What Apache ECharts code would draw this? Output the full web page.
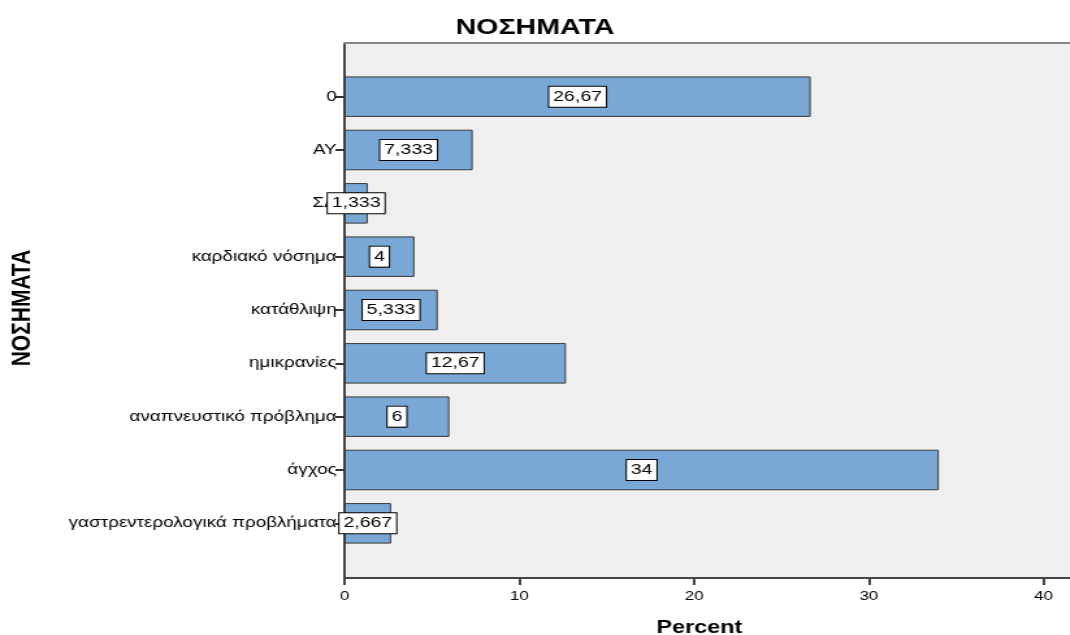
<!DOCTYPE html>
<html>
<head>
<meta charset="utf-8">
<script src="https://cdn.jsdelivr.net/npm/echarts@6/dist/echarts.min.js"></script>
<style>
  html, body { margin: 0; padding: 0; background: #ffffff; overflow: hidden; }
  /* The chart is laid out on a narrower canvas and widened horizontally */
  #chart {
    width: 823px;
    height: 635px;
    transform: scaleX(1.3);
    transform-origin: 0 0;
  }
</style>
</head>
<body>
<div id="chart"></div>
<script>
// Disease categories (top to bottom) and their percentages
const categories = [
  '0',
  'ΑΥ',
  'ΣΔ',
  'καρδιακό νόσημα',
  'κατάθλιψη',
  'ημικρανίες',
  'αναπνευστικό πρόβλημα',
  'άγχος',
  'γαστρεντερολογικά προβλήματα'
];
const percents = [26.67, 7.333, 1.333, 4, 5.333, 12.67, 6, 34, 2.667];

const xMin = 0;
const xMax = 41.5;
const xStep = 10;

const FONT = 'Liberation Sans';
const PLOT_LEFT = 265;

const chart = echarts.init(document.getElementById('chart'), null, { renderer: 'canvas' });

chart.setOption({
  animation: false,
  backgroundColor: '#ffffff',
  title: [
    {
      text: 'ΝΟΣΗΜΑΤΑ',
      left: 'center',
      top: 12,
      textStyle: { fontFamily: FONT, fontSize: 22, fontWeight: 'bold', color: '#000' }
    },
    {
      text: 'Percent',
      left: 533,
      top: 614,
      textAlign: 'center',
      textStyle: { fontFamily: FONT, fontSize: 18, fontWeight: 'bold', color: '#000' }
    }
  ],
  graphic: [
    {
      type: 'text',
      x: 17,
      y: 308,
      rotation: Math.PI / 2,
      style: {
        text: 'ΝΟΣΗΜΑΤΑ',
        font: 'bold 21px "' + FONT + '"',
        fill: '#000',
        align: 'center',
        verticalAlign: 'middle'
      }
    }
  ],
  grid: [
    // plot frame
    {
      left: PLOT_LEFT, top: 43, right: 0, bottom: 57,
      show: true, backgroundColor: '#efefef', borderWidth: 0
    },
    // bar band area
    {
      left: PLOT_LEFT, top: 70, right: 0, height: 480
    }
  ],
  xAxis: [
    {
      gridIndex: 0,
      type: 'value',
      min: xMin, max: xMax, interval: xStep,
      splitLine: { show: false },
      axisLine: { show: true, lineStyle: { color: '#444', width: 2 } },
      axisTick: { show: true, length: 7, lineStyle: { color: '#444', width: 2 } },
      axisLabel: {
        showMaxLabel: false,
        margin: 12,
        fontFamily: FONT, fontSize: 13, color: '#000'
      }
    },
    {
      gridIndex: 0,
      type: 'value',
      position: 'top',
      min: xMin, max: xMax, interval: xStep,
      splitLine: { show: false },
      axisLine: { show: true, lineStyle: { color: '#888', width: 2 } },
      axisTick: { show: false },
      axisLabel: { show: false }
    },
    {
      gridIndex: 1,
      type: 'value',
      min: xMin, max: xMax, interval: xStep,
      show: false
    }
  ],
  yAxis: [
    {
      gridIndex: 0,
      type: 'value',
      axisLine: { show: true, onZero: false, lineStyle: { color: '#444', width: 2 } },
      axisTick: { show: false },
      axisLabel: { show: false },
      splitLine: { show: false }
    },
    {
      gridIndex: 1,
      type: 'category',
      data: categories,
      inverse: true,
      axisLine: { show: false },
      axisTick: { show: true, alignWithLabel: true, length: 7, lineStyle: { color: '#333', width: 2 } },
      axisLabel: { margin: 6, fontFamily: FONT, fontSize: 14.5, color: '#000' },
      splitLine: { show: false }
    }
  ],
  series: [
    {
      type: 'bar',
      xAxisIndex: 2,
      yAxisIndex: 1,
      data: percents,
      barWidth: '76%',
      itemStyle: { color: '#79a7d6', borderColor: '#3a3a3a', borderWidth: 1 },
      label: {
        show: true,
        position: 'inside',
        formatter: p => String(p.value).replace('.', ','),
        fontFamily: FONT,
        fontSize: 15,
        color: '#000',
        backgroundColor: '#ffffff',
        borderColor: '#000',
        borderWidth: 1,
        padding: [3, 3, 2, 3]
      }
    }
  ]
});
</script>
</body>
</html>
